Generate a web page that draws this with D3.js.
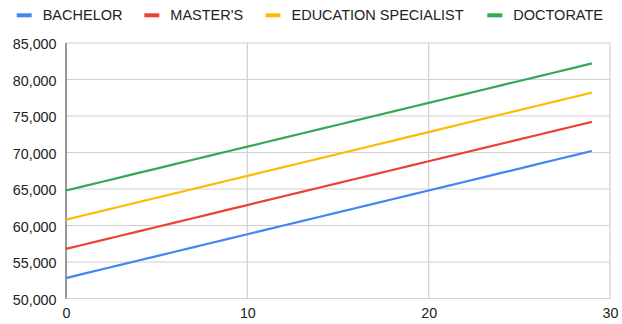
<!DOCTYPE html>
<html>
<head>
<meta charset="utf-8">
<script src="https://cdn.jsdelivr.net/npm/d3@7"></script>
<style>
  html, body { margin: 0; padding: 0; background: #fff; }
  svg { display: block; font-family: "Liberation Sans", Arial, sans-serif; }
</style>
</head>
<body>
<svg id="chart" width="622" height="324"></svg>
<script>
// Years of experience on the x axis
const years = [0,1,2,3,4,5,6,7,8,9,10,11,12,13,14,15,16,17,18,19,20,21,22,23,24,25,26,27,28,29];

// Salary by degree level
const bachelor = [52800,53400,54000,54600,55200,55800,56400,57000,57600,58200,58800,59400,60000,60600,61200,61800,62400,63000,63600,64200,64800,65400,66000,66600,67200,67800,68400,69000,69600,70200];
const masters = [56800,57400,58000,58600,59200,59800,60400,61000,61600,62200,62800,63400,64000,64600,65200,65800,66400,67000,67600,68200,68800,69400,70000,70600,71200,71800,72400,73000,73600,74200];
const eduSpecialist = [60800,61400,62000,62600,63200,63800,64400,65000,65600,66200,66800,67400,68000,68600,69200,69800,70400,71000,71600,72200,72800,73400,74000,74600,75200,75800,76400,77000,77600,78200];
const doctorate = [64800,65400,66000,66600,67200,67800,68400,69000,69600,70200,70800,71400,72000,72600,73200,73800,74400,75000,75600,76200,76800,77400,78000,78600,79200,79800,80400,81000,81600,82200];

const seriesNames = ["BACHELOR", "MASTER'S", "EDUCATION SPECIALIST", "DOCTORATE"];
const seriesValues = [bachelor, masters, eduSpecialist, doctorate];
const seriesColors = ["#4285F4", "#EA4335", "#FBBC04", "#34A853"];

const xTicks = [0, 10, 20, 30];
const yTicks = [50000, 55000, 60000, 65000, 70000, 75000, 80000, 85000];

const svg = d3.select("#chart");
const plot = { left: 66, right: 610, top: 43, bottom: 298.5 };

const x = d3.scaleLinear().domain([0, 30]).range([plot.left, plot.right]);
const y = d3.scaleLinear().domain([50000, 85000]).range([plot.bottom, plot.top]);

// Horizontal gridlines
svg.append("g")
  .selectAll("line")
  .data(yTicks)
  .join("line")
  .attr("x1", plot.left).attr("x2", plot.right)
  .attr("y1", d => y(d)).attr("y2", d => y(d))
  .attr("stroke", "#d0d0d0").attr("stroke-width", 1.2);

// Vertical gridlines
svg.append("g")
  .selectAll("line")
  .data(xTicks.filter(d => d > 0))
  .join("line")
  .attr("x1", d => x(d)).attr("x2", d => x(d))
  .attr("y1", plot.top).attr("y2", plot.bottom)
  .attr("stroke", "#d0d0d0").attr("stroke-width", 1.2);

// Y axis labels
const yAxis = d3.axisLeft(y).tickValues(yTicks).tickFormat(d3.format(",")).tickSize(0).tickPadding(9.5);
const gy = svg.append("g").attr("transform", `translate(${plot.left},1)`).call(yAxis);
gy.select(".domain").remove();
gy.selectAll("text").attr("fill", "#222").style("font-size", "14.3px").style("font-family", "'Liberation Sans', Arial, sans-serif");

// X axis labels
const xAxis = d3.axisBottom(x).tickValues(xTicks).tickFormat(d3.format("d")).tickSize(0).tickPadding(9.5);
const gx = svg.append("g").attr("transform", `translate(0,${plot.bottom})`).call(xAxis);
gx.select(".domain").remove();
gx.selectAll("text").attr("fill", "#222").style("font-size", "14.3px").style("font-family", "'Liberation Sans', Arial, sans-serif");

// Left baseline
svg.append("line")
  .attr("x1", plot.left).attr("x2", plot.left)
  .attr("y1", plot.top).attr("y2", plot.bottom)
  .attr("stroke", "#333").attr("stroke-width", 1);

// Series lines
const line = d3.line().x((d, i) => x(years[i])).y(d => y(d));
svg.append("g")
  .selectAll("path")
  .data(seriesValues)
  .join("path")
  .attr("d", d => line(d))
  .attr("fill", "none")
  .attr("stroke", (d, i) => seriesColors[i])
  .attr("stroke-width", 2.2);

// Legend
const legendX = [16.7, 144.3, 265.5, 487.3];
const legend = svg.append("g")
  .selectAll("g")
  .data(seriesNames)
  .join("g")
  .attr("transform", (d, i) => `translate(${legendX[i]},0)`);
legend.append("rect")
  .attr("x", 0).attr("y", 13.3).attr("width", 15).attr("height", 4)
  .attr("fill", (d, i) => seriesColors[i]);
legend.append("text")
  .attr("x", 26).attr("y", 20)
  .attr("fill", "#222")
  .style("font-size", "14.5px")
  .text(d => d);
</script>
</body>
</html>
